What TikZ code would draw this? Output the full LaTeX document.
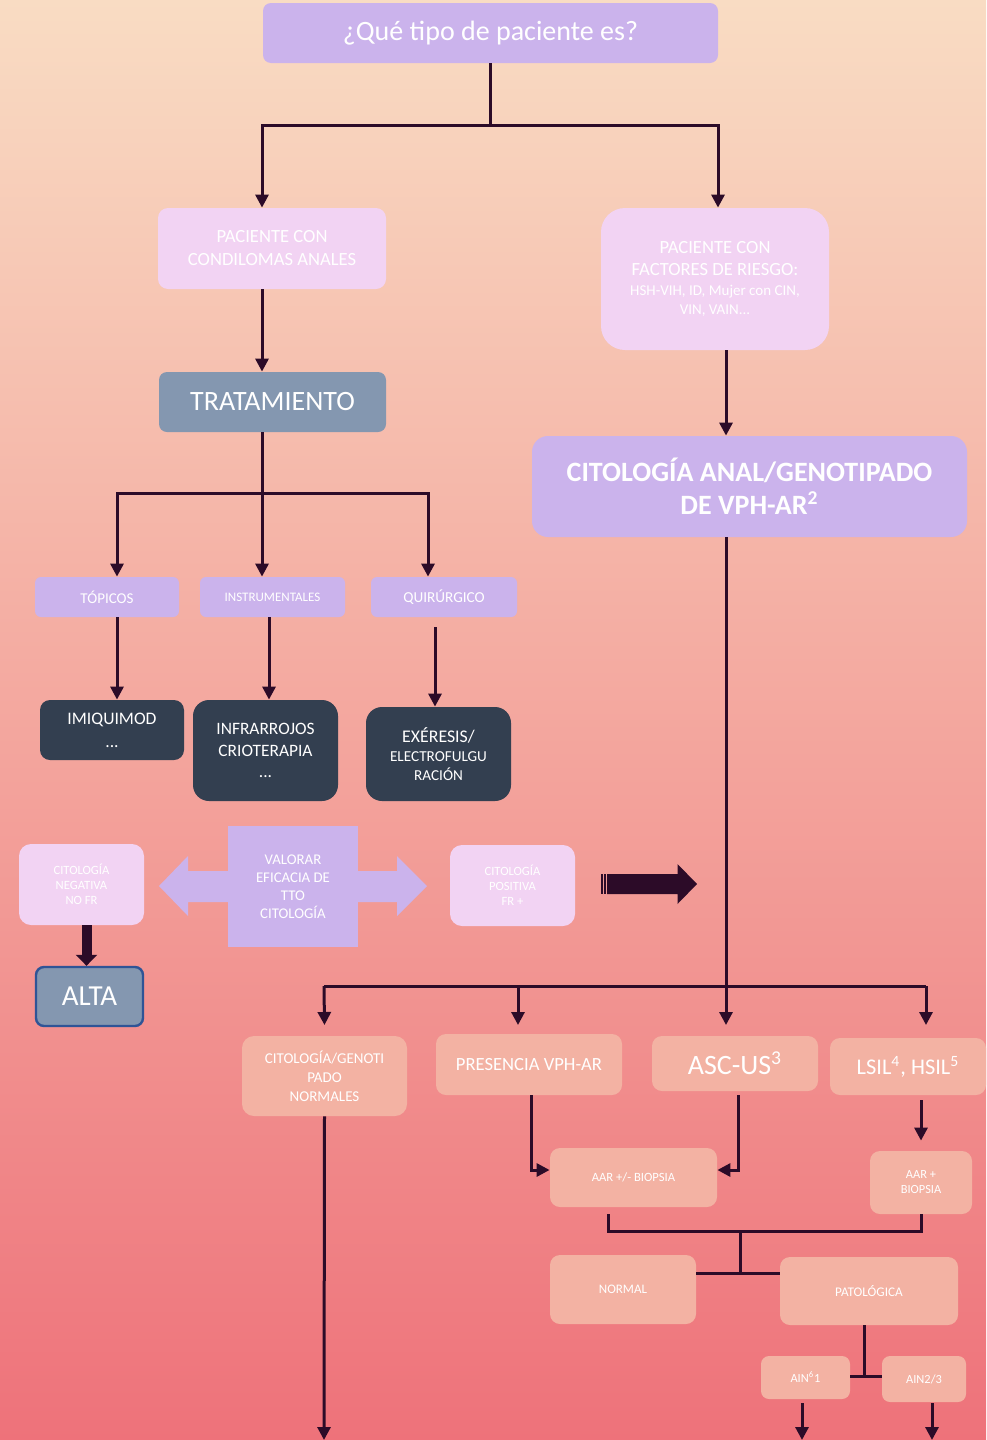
\documentclass[tikz,border=0pt]{standalone}
\usepackage{fontspec}
\setmainfont{Carlito}
\usetikzlibrary{arrows.meta}
\definecolor{lav}{HTML}{CBB3EC}
\definecolor{lpink}{HTML}{F2D3F3}
\definecolor{gblue}{HTML}{8497B0}
\definecolor{navy}{HTML}{333F50}
\definecolor{salm}{HTML}{F3B2A3}
\definecolor{dk}{HTML}{2C0B28}
\definecolor{bgtop}{HTML}{F9DCC3}
\definecolor{bgmid}{HTML}{F7A792}
\definecolor{bgbot}{HTML}{EE727A}
\definecolor{altab}{HTML}{2F5496}
\newcommand\fz[2]{\fontsize{#1}{#2}\selectfont}
\begin{document}
\begin{tikzpicture}[x=0.5pt,y=-0.5pt,
  box/.style={align=center, text=white, inner sep=1pt, draw=none},
  ln/.style={draw=dk, line width=1.5pt},
  arr/.style={draw=dk, line width=1.5pt, -{Triangle[length=6.5pt,width=6.5pt]}}]
\shade[top color=bgtop, middle color=bgmid, bottom color=bgbot] (0,0) rectangle (986,1440);
\useasboundingbox (0,0) rectangle (986,1440);

% ---- nodes ----
\node[box, fill=lav, minimum width=227.5pt, minimum height=30pt, rounded corners=4pt, font=\fz{14}{16}] (q) at (490.5,33) {¿Qué tipo de paciente es?};
\node[box, fill=lpink, minimum width=114pt, minimum height=40.5pt, rounded corners=5pt, font=\fz{9.3}{11.5}] (lpat) at (272,248.5) {PACIENTE CON\\CONDILOMAS ANALES};
\node[box, fill=lpink, minimum width=114pt, minimum height=71pt, rounded corners=12pt, font=\fz{9.3}{11}] (rpat) at (715,279) {PACIENTE CON\\FACTORES DE RIESGO:\\[-1pt]{\fz{7.5}{9.5}HSH-VIH, ID, Mujer con CIN,}\\[-1.5pt]{\fz{7.5}{9.5}VIN, VAIN...}};
\node[box, fill=gblue, minimum width=113.5pt, minimum height=30pt, rounded corners=4pt, font=\fz{14}{16}] (trat) at (272.5,402) {TRATAMIENTO};
\node[box, fill=lav, minimum width=217.5pt, minimum height=50.5pt, rounded corners=8pt, font=\fz{14}{16.5}\bfseries] (cito) at (749.5,486.5) {CITOLOGÍA ANAL/GENOTIPADO\\DE VPH-AR\textsuperscript{2}};

\node[box, fill=lav, minimum width=72pt, minimum height=20pt, rounded corners=3pt, font=\fz{7.5}{8.5}] (top1) at (107,597) {TÓPICOS};
\node[box, fill=lav, minimum width=72.5pt, minimum height=20pt, rounded corners=3pt, font=\fz{6.5}{7.5}] (inst) at (272.5,597) {INSTRUMENTALES};
\node[box, fill=lav, minimum width=73pt, minimum height=20pt, rounded corners=3pt, font=\fz{7.6}{8.5}] (quir) at (444,597) {QUIRÚRGICO};

\node[box, fill=navy, minimum width=72pt, minimum height=30pt, rounded corners=5pt, font=\fz{8.8}{11.5}] (imiq) at (112,730) {IMIQUIMOD\\...};
\node[box, fill=navy, minimum width=72.5pt, minimum height=50.5pt, rounded corners=8pt, font=\fz{8.7}{10.7}] (infr) at (265.5,750.5) {INFRARROJOS\\CRIOTERAPIA\\...};
\node[box, fill=navy, minimum width=72.5pt, minimum height=47pt, rounded corners=8pt, font=\fz{7.6}{9.6}] (exer) at (438.5,754) {{\fz{8.9}{9.6}EXÉRESIS/}\\ELECTROFULGU\\RACIÓN};

% double arrow behind VALORAR
\fill[lav] (159,886) -- (188,856) -- (188,871) -- (397,871) -- (397,856) -- (427,886)
  -- (397,916) -- (397,902) -- (188,902) -- (188,916) -- cycle;
\node[box, fill=lav, minimum width=65pt, minimum height=60.5pt, font=\fz{7.4}{9}] (valo) at (293,886.5) {VALORAR\\EFICACIA DE\\TTO\\CITOLOGÍA};
\node[box, fill=lpink, minimum width=62.5pt, minimum height=40.5pt, rounded corners=6pt, font=\fz{6.3}{7.6}] (neg) at (81.5,884.5) {CITOLOGÍA\\NEGATIVA\\NO FR};
\node[box, fill=lpink, minimum width=62.5pt, minimum height=40.5pt, rounded corners=6pt, font=\fz{6.3}{7.6}] (pos) at (512.5,885.5) {CITOLOGÍA\\POSITIVA\\FR +};
\node[box, fill=gblue, draw=altab, line width=1.2pt, minimum width=53.5pt, minimum height=29.5pt, rounded corners=4pt, font=\fz{14.5}{16}] (alta) at (89.5,996.5) {ALTA};

% striped dark arrow
\fill[dk] (601,874) rectangle (602.5,894);
\fill[dk] (603.5,874) rectangle (605.5,894);
\fill[dk] (607,874) -- (677.5,874) -- (677.5,864) -- (697,884) -- (677.5,904) -- (677.5,894) -- (607,894) -- cycle;

\node[box, fill=salm, minimum width=82.5pt, minimum height=40pt, rounded corners=6pt, font=\fz{7.5}{9.5}] (cgn) at (324.5,1076) {CITOLOGÍA/GENOTI\\PADO\\NORMALES};
\node[box, fill=salm, minimum width=93pt, minimum height=30.5pt, rounded corners=5pt, font=\fz{9.3}{11}] (pres) at (529,1064.5) {PRESENCIA VPH-AR};
\node[box, fill=salm, minimum width=83pt, minimum height=27.5pt, rounded corners=5pt, font=\fz{14}{16}] (asc) at (735,1063.5) {ASC-US\textsuperscript{3}};
\node[box, fill=salm, minimum width=78pt, minimum height=28.5pt, rounded corners=5pt, font=\fz{11.2}{13}] (lsil) at (908,1066.5) {LSIL\textsuperscript{4}, HSIL\textsuperscript{5}};
\node[box, fill=salm, minimum width=83.5pt, minimum height=29.5pt, rounded corners=5pt, font=\fz{6.3}{7.5}] (aarb) at (633.5,1177.5) {AAR +/- BIOPSIA};
\node[box, fill=salm, minimum width=51pt, minimum height=31.5pt, rounded corners=5pt, font=\fz{6.2}{7.5}] (aarp) at (921,1182.5) {AAR +\\BIOPSIA};
\node[box, fill=salm, minimum width=73pt, minimum height=34.5pt, rounded corners=5pt, font=\fz{6.5}{7.5}] (norm) at (623,1289.5) {NORMAL};
\node[box, fill=salm, minimum width=89pt, minimum height=34pt, rounded corners=5pt, font=\fz{6.6}{7.5}] (pato) at (869,1291) {PATOLÓGICA};
\node[box, fill=salm, minimum width=44.5pt, minimum height=21.5pt, rounded corners=4pt, font=\fz{6.2}{7.5}] (ain1) at (805.5,1377.5) {AIN\textsuperscript{6}1};
\node[box, fill=salm, minimum width=42pt, minimum height=23pt, rounded corners=4pt, font=\fz{6.2}{7.5}] (ain2) at (924,1379) {AIN2/3};

% ---- junction coordinates ----
\coordinate (j1) at (490,125);
\coordinate (j2) at (262,493);
\coordinate (j3) at (726,986);
\coordinate (h1) at (324,986);
\coordinate (h2) at (518,986);
\coordinate (h4) at (926,986);
\coordinate (r) at (0,1025);
\coordinate (j5) at (740,1231);
\coordinate (j6) at (740,1273);
\coordinate (j7) at (864,1376);
\coordinate (e1) at (324,1440);
\coordinate (e2) at (802,1440);
\coordinate (e3) at (932,1440);

% ---- connectors ----
\draw[ln] (q.south -| j1) -- (j1);
\draw[arr] (j1) -| ([xshift=-5pt]lpat.north);
\draw[arr] (j1) -| ([xshift=1.5pt]rpat.north);
\draw[arr] ([xshift=-5pt]lpat.south) -- ([xshift=-5pt]lpat.south |- trat.north);
\draw[arr] ([xshift=5.5pt]rpat.south) -- ([xshift=5.5pt]rpat.south |- cito.north);

\draw[ln] (trat.south -| j2) -- (j2);
\draw[arr] (j2) -| ([xshift=5pt]top1.north);
\draw[arr] (j2) -- (j2 |- inst.north);
\draw[arr] (j2) -| ([xshift=-8pt]quir.north);

\draw[arr] ([xshift=5pt]top1.south) -- ([xshift=5pt]top1.south |- imiq.north);
\draw[arr] ([xshift=-1.75pt]inst.south) -- ([xshift=-1.75pt]inst.south |- infr.north);
\draw[arr] ([xshift=-4.5pt,yshift=-5pt]quir.south) -- ([xshift=-4.5pt]quir.south |- exer.north);

\draw[draw=dk, line width=5pt, -{Triangle[length=5.5pt,width=10.5pt]}] ([xshift=2.5pt]neg.south) -- ([xshift=-1.5pt]alta.north);

\draw[ln] (cito.south -| j3) -- (j3);
\draw[ln] (h1) -- (h4);
\draw[arr] (h1) -- (cgn.north |- r);
\draw[arr] (h2) -- (h2 |- r);
\draw[arr] (j3) -- (j3 |- r);
\draw[arr] (h4) -- (h4 |- r);

\draw[arr] ([xshift=1pt]pres.south) |- ([yshift=3.75pt]aarb.west);
\draw[arr] ([xshift=1.5pt,yshift=-2pt]asc.south) |- ([yshift=3.75pt]aarb.east);
\draw[arr] ([yshift=-2.5pt]aarp.north |- lsil.south) -- ([yshift=5pt]aarp.north);

\draw[ln] ([xshift=-12.75pt,yshift=-3.5pt]aarb.south) |- (aarp.south |- j5) -- (aarp.south);
\draw[ln] (j5) -- (j6);
\draw[ln] (norm.east |- j6) -- (pato.west |- j6);
\draw[ln] (pato.south -| j7) -- (j7);
\draw[ln] (ain1.east |- j7) -- (ain2.west |- j7);

\draw[arr] (cgn.south) -- (e1);
\draw[arr] ([yshift=-2pt]ain1.south -| e2) -- (e2);
\draw[arr] ([yshift=-0.5pt]ain2.south -| e3) -- (e3);
\end{tikzpicture}
\end{document}
